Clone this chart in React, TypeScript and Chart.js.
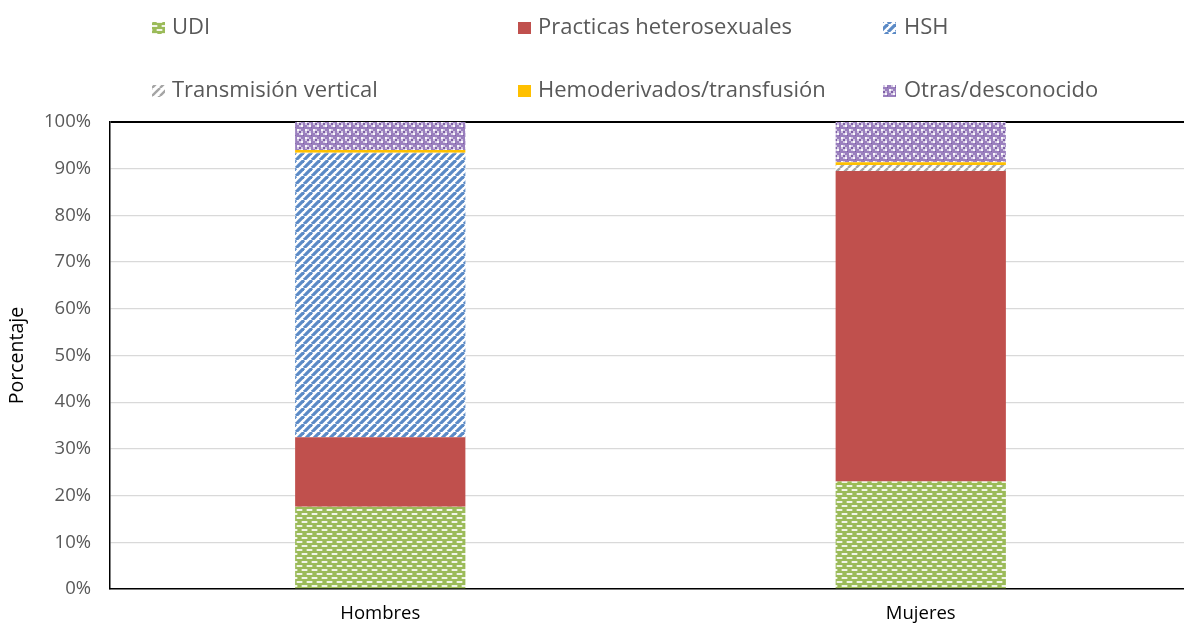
import React, { useEffect, useRef } from "react";
import { Chart, registerables } from "chart.js";

Chart.register(...registerables);

const categories = ["Hombres", "Mujeres"];
const seriesNames = [
  "UDI",
  "Practicas heterosexuales",
  "HSH",
  "Transmisión vertical",
  "Hemoderivados/transfusión",
  "Otras/desconocido",
];
const udi = [17.6, 23.0];
const hetero = [14.9, 66.5];
const hsh = [60.8, 0];
const vertical = [0.1, 1.3];
const hemo = [0.6, 0.6];
const otras = [6.0, 8.6];
const yMax = 100;
const yStep = 10;

function tile(w: number, h: number, draw: (c: CanvasRenderingContext2D) => void): CanvasPattern {
  const cv = document.createElement("canvas");
  cv.width = w;
  cv.height = h;
  const c = cv.getContext("2d") as CanvasRenderingContext2D;
  draw(c);
  return c.createPattern(cv, "repeat") as CanvasPattern;
}

function stripes(bg: string, fg: string, s: number, lw: number) {
  return tile(s, s, (c) => {
    c.fillStyle = bg;
    c.fillRect(0, 0, s, s);
    c.strokeStyle = fg;
    c.lineWidth = lw;
    for (const k of [-s, 0, s]) {
      c.beginPath();
      c.moveTo(k, s);
      c.lineTo(k + s, 0);
      c.stroke();
    }
  });
}

function makePatterns() {
  const udiP = tile(10, 8, (c) => {
    c.fillStyle = "#9BBB59";
    c.fillRect(0, 0, 10, 8);
    c.fillStyle = "rgba(255,255,255,0.8)";
    c.fillRect(2, 1, 5, 2);
    c.fillRect(7, 5, 3, 2);
    c.fillRect(0, 5, 2, 2);
    c.fillStyle = "rgba(255,255,255,0.3)";
    c.fillRect(1, 1, 7, 2);
    c.fillRect(6, 5, 4, 2);
    c.fillRect(0, 5, 3, 2);
  });
  const hshP = stripes("#ffffff", "#5B8AC6", 8, 3.2);
  const tvP = stripes("#ffffff", "#A5A5A5", 8, 2.4);
  const otrasP = tile(8, 8, (c) => {
    c.fillStyle = "#9A7FBE";
    c.fillRect(0, 0, 8, 8);
    c.fillStyle = "rgba(255,255,255,0.95)";
    c.fillRect(1, 1, 2, 2);
    c.fillRect(5, 5, 2, 2);
    c.fillStyle = "rgba(255,255,255,0.55)";
    c.fillRect(3, 1, 2, 2);
    c.fillRect(1, 3, 2, 2);
    c.fillRect(5, 3, 2, 2);
    c.fillRect(3, 5, 2, 2);
    c.fillStyle = "#7E5FA6";
    c.fillRect(3, 3, 2, 2);
    c.fillRect(7, 7, 1, 1);
  });
  return [udiP, "#C0504D", hshP, tvP, "#FFC000", otrasP];
}

const FONT = "'Open Sans', sans-serif";

export default function App() {
  const ref = useRef<HTMLCanvasElement | null>(null);

  useEffect(() => {
    if (!ref.current) return;
    document.body.style.margin = "0";
    const fills = makePatterns();
    const values = [udi, hetero, hsh, vertical, hemo, otras];

    const legendPlugin = {
      id: "customLegend",
      afterDraw(chart: any) {
        const ctx = chart.ctx as CanvasRenderingContext2D;
        const boxX = [152, 518, 883];
        const textX = [172, 538, 904];
        const rowY = [28, 91];
        ctx.save();
        ctx.font = `22px ${FONT}`;
        ctx.textBaseline = "middle";
        seriesNames.forEach((name, i) => {
          const col = i % 3;
          const row = Math.floor(i / 3);
          const y = rowY[row];
          ctx.fillStyle = fills[i] as any;
          ctx.fillRect(boxX[col], y - 6, 13, 12);
          ctx.fillStyle = "#595959";
          ctx.fillText(name, textX[col], y);
        });
        ctx.restore();
      },
    };

    const chart = new Chart(ref.current, {
      type: "bar",
      data: {
        labels: categories,
        datasets: seriesNames.map((name, i) => ({
          label: name,
          data: values[i],
          backgroundColor: fills[i] as any,
          borderWidth: 0,
          barPercentage: 0.315,
          categoryPercentage: 1,
        })),
      },
      options: {
        animation: false,
        responsive: true,
        maintainAspectRatio: false,
        layout: { padding: { top: 122, right: 1, left: 0, bottom: 0 } },
        plugins: {
          legend: { display: false },
          tooltip: { enabled: false },
        },
        scales: {
          x: {
            stacked: true,
            grid: { display: false, drawTicks: false },
            border: { display: true, color: "#000000", width: 1.5 },
            ticks: { color: "#000000", font: { family: FONT, size: 18.5 }, padding: 14 },
            afterFit(scale: any) {
              scale.height = 37;
            },
          },
          y: {
            stacked: true,
            min: 0,
            max: yMax,
            ticks: {
              stepSize: yStep,
              color: "#595959",
              font: { family: FONT, size: 18.5 },
              padding: 19,
              callback: (v: any) => `${v}%`,
            },
            grid: {
              drawTicks: false,
              color: (ctx: any) => (ctx.tick && ctx.tick.value === yMax ? "#000000" : "#D9D9D9"),
              lineWidth: (ctx: any) => (ctx.tick && ctx.tick.value === yMax ? 2 : 1.3),
            },
            border: { display: true, color: "#000000", width: 1.5 },
            title: {
              display: true,
              text: "Porcentaje",
              color: "#000000",
              font: { family: FONT, size: 19.5 },
              padding: { top: 6, bottom: 0 },
            },
            afterFit(scale: any) {
              scale.width = 110;
            },
          },
        },
      },
      plugins: [legendPlugin],
    });
    return () => chart.destroy();
  }, []);

  return (
    <div style={{ position: "fixed", left: 0, top: 0, width: 1184, height: 626, overflow: "hidden", background: "#fff" }}>
      <div style={{ position: "relative", width: 1192, height: 626 }}>
        <canvas ref={ref} />
      </div>
    </div>
  );
}
